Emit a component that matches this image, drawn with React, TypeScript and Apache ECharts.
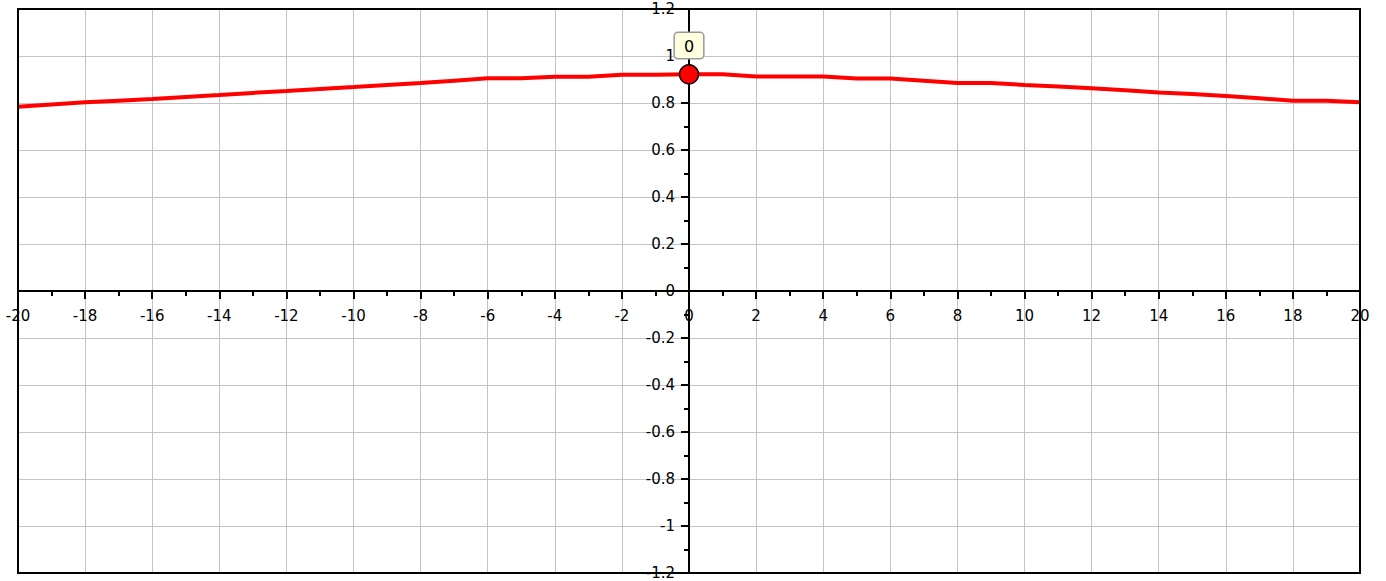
import React, { useEffect, useRef } from "react";
import * as echarts from "echarts";

const xValues = [
  -20, -19, -18, -17, -16, -15, -14, -13, -12, -11, -10, -9, -8, -7, -6, -5, -4, -3, -2, -1,
  0, 1, 2, 3, 4, 5, 6, 7, 8, 9, 10, 11, 12, 13, 14, 15, 16, 17, 18, 19, 20,
];
const yValues = [
  0.784, 0.794, 0.803, 0.81, 0.817, 0.826, 0.834, 0.843, 0.851, 0.86, 0.868, 0.877, 0.885,
  0.895, 0.905, 0.905, 0.912, 0.912, 0.92, 0.92, 0.922, 0.922, 0.913, 0.913, 0.913, 0.904,
  0.904, 0.895, 0.885, 0.885, 0.877, 0.87, 0.863, 0.854, 0.845, 0.838, 0.83, 0.82, 0.81,
  0.81, 0.803,
];
const markerX = 0;
const xRange = [-20, 20];
const yRange = [-1.2, 1.2];
const xStep = 2;
const yStep = 0.2;

const FONT = "DejaVu Sans";
const W = 1386;
const H = 581;
const G = { left: 18, right: 26, top: 9, bottom: 8 };

export default function App() {
  const ref = useRef<HTMLDivElement>(null);
  useEffect(() => {
    if (!ref.current) return;
    const chart = echarts.init(ref.current, null, { renderer: "svg" });
    const lineData = xValues.map((x, i) => [x, yValues[i]]);
    const mIdx = xValues.indexOf(markerX);
    const markerData = [[markerX, yValues[mIdx]]];
    const gw = W - G.left - G.right;
    const gh = H - G.top - G.bottom;
    // offsets that put each axis on the other axis's zero
    const xOffset = -(gh * (0 - yRange[0])) / (yRange[1] - yRange[0]);
    const yOffset = -(gw * (0 - xRange[0])) / (xRange[1] - xRange[0]);
    chart.setOption({
      animation: false,
      grid: {
        ...G,
        containLabel: false,
        outerBoundsMode: "none",
        show: true,
        borderColor: "#000",
        borderWidth: 2,
        backgroundColor: "transparent",
        z: 10,
      },
      xAxis: {
        type: "value",
        position: "bottom",
        offset: xOffset,
        min: xRange[0],
        max: xRange[1],
        interval: xStep,
        axisLine: { onZero: false, lineStyle: { color: "#000", width: 2 } },
        axisTick: { show: true, length: 8, lineStyle: { color: "#000", width: 2 } },
        minorTick: { show: true, splitNumber: 2, length: 5, lineStyle: { color: "#000", width: 2 } },
        splitLine: { show: true, lineStyle: { color: "#c4c4c4", width: 1 } },
        axisLabel: {
          color: "#000",
          fontFamily: FONT,
          fontSize: 15,
          margin: 17,
          showMinLabel: true,
          showMaxLabel: true,
          hideOverlap: false,
        },
      },
      yAxis: {
        type: "value",
        position: "left",
        offset: yOffset,
        min: yRange[0],
        max: yRange[1],
        interval: yStep,
        axisLine: { onZero: false, lineStyle: { color: "#000", width: 2 } },
        axisTick: { show: true, length: 8, lineStyle: { color: "#000", width: 2 } },
        minorTick: { show: true, splitNumber: 2, length: 5, lineStyle: { color: "#000", width: 2 } },
        splitLine: { show: true, lineStyle: { color: "#c4c4c4", width: 1 } },
        axisLabel: {
          color: "#000",
          fontFamily: FONT,
          fontSize: 15,
          margin: 14,
          hideOverlap: false,
          formatter: (v: number) => String(Math.round(v * 10) / 10),
        },
      },
      series: [
        {
          type: "line",
          data: lineData,
          showSymbol: false,
          lineStyle: { color: "#ff0000", width: 4 },
          z: 3,
        },
        {
          type: "scatter",
          data: markerData,
          symbol: "circle",
          symbolSize: 19,
          itemStyle: { color: "#ff0000", borderColor: "#000", borderWidth: 1.5, opacity: 1 },
          z: 5,
          label: {
            show: true,
            position: "top",
            distance: 6,
            formatter: () => String(markerX),
            color: "#000",
            fontFamily: FONT,
            fontSize: 16,
            backgroundColor: "#ffffe0",
            borderColor: "#999",
            borderWidth: 1.5,
            borderRadius: 3,
            padding: [5, 9, 4, 9],
          },
        },
      ],
    });
    return () => chart.dispose();
  }, []);
  return (
    <div
      ref={ref}
      style={{ position: "absolute", left: 0, top: 0, width: W, height: H, background: "#fff" }}
    />
  );
}
